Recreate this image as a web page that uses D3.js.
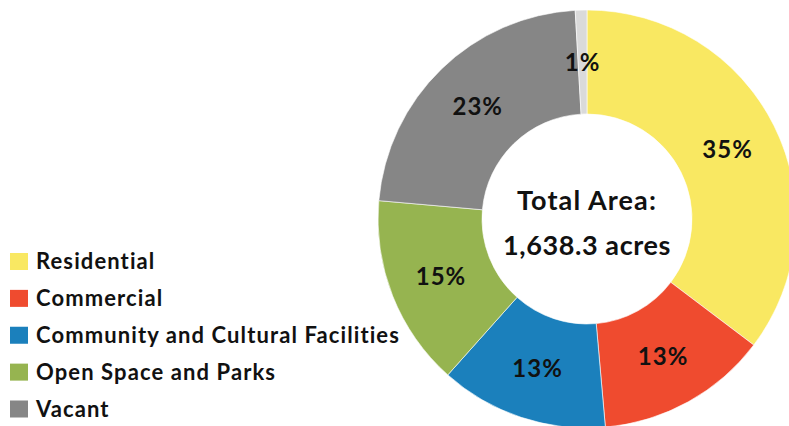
<!DOCTYPE html>
<html>
<head>
<meta charset="utf-8">
<script src="https://cdn.jsdelivr.net/npm/d3@7"></script>
<style>
  html, body { margin: 0; padding: 0; background: #fff; overflow: hidden; }
  text { font-family: Lato, "Open Sans", sans-serif; font-weight: 700; fill: #111; }
</style>
</head>
<body>
<div id="chart"></div>
<script>
var categories = ["Residential", "Commercial", "Community and Cultural Facilities", "Open Space and Parks", "Vacant", "Other"];
var shares = [35.3, 13.3, 13.0, 14.8, 22.7, 0.9];
var colors = ["#f9e862", "#ef4b2f", "#1b80bc", "#96b450", "#868686", "#dadada"];
var legendItems = ["Residential", "Commercial", "Community and Cultural Facilities", "Open Space and Parks", "Vacant"];
var centerLines = ["Total Area:", "1,638.3 acres"];

var width = 789,
    height = 426,
    cx = 587, cy = 219,
    outerR = 209, innerR = 105;

var data = categories.map((c, i) => ({name: c, value: shares[i], color: colors[i]}));

var svg = d3.select("#chart")
  .append("svg")
  .attr("width", width)
  .attr("height", height);

var pie = d3.pie().sort(null).value(d => d.value);
var arc = d3.arc().innerRadius(innerR).outerRadius(outerR);

var g = svg.append("g")
  .attr("transform", `translate(${cx},${cy})`);

var slices = g.selectAll(".slice")
  .data(pie(data))
  .enter().append("g")
  .attr("class", "slice");

slices.append("path")
  .attr("d", arc)
  .style("fill", d => d.data.color)
  .style("stroke", "#fff")
  .style("stroke-width", 0.6);

// percent labels at the arc centroids
slices.append("text")
  .attr("transform", d => `translate(${arc.centroid(d)})`)
  .attr("text-anchor", "middle")
  .attr("dy", "0.36em")
  .style("font-size", "24px")
  .style("letter-spacing", "1px")
  .text(d => Math.round(d.data.value) + "%");

// text in the hole
g.append("text")
  .attr("text-anchor", "middle")
  .attr("y", -9)
  .style("font-size", "27px")
  .style("letter-spacing", "1.1px")
  .text(centerLines[0]);
g.append("text")
  .attr("text-anchor", "middle")
  .attr("y", 36)
  .style("font-size", "27px")
  .style("letter-spacing", "0.6px")
  .text(centerLines[1]);

// legend
var legendY = d3.scalePoint().domain(legendItems).range([261.5, 409]);
var colorOf = d3.scaleOrdinal().domain(categories).range(colors);

var legend = svg.selectAll(".legend")
  .data(legendItems)
  .enter().append("g")
  .attr("class", "legend")
  .attr("transform", d => `translate(10,${legendY(d)})`);

legend.append("rect")
  .attr("x", 0)
  .attr("y", -8.5)
  .attr("width", 18)
  .attr("height", 17)
  .style("fill", d => colorOf(d));

legend.append("text")
  .attr("x", 26)
  .attr("y", 7.5)
  .style("font-size", "22px")
  .style("letter-spacing", "1.1px")
  .text(d => d);
</script>
</body>
</html>
